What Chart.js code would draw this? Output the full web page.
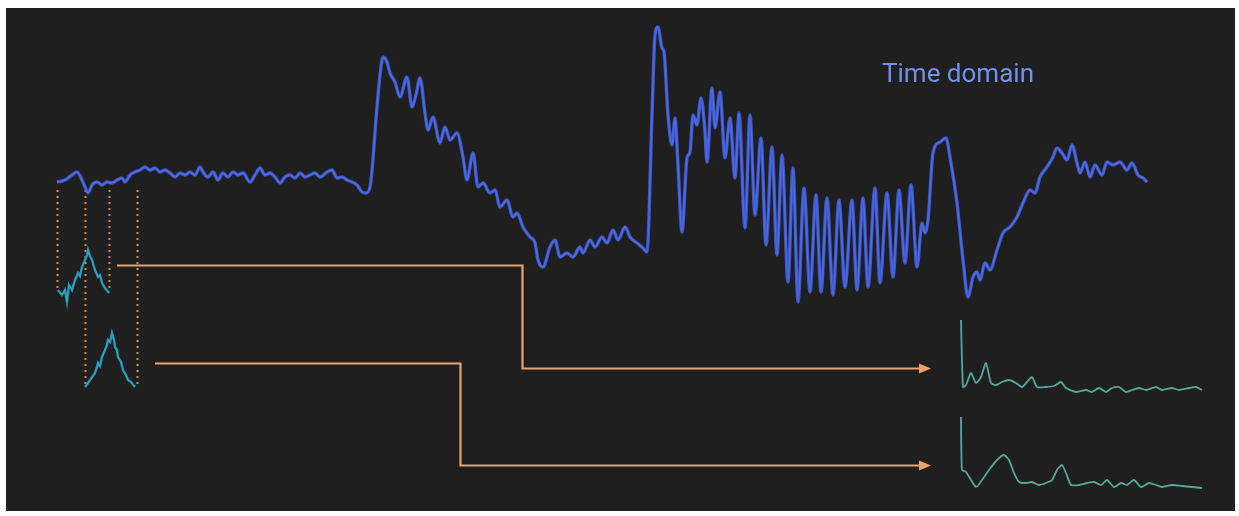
<!DOCTYPE html>
<html>
<head>
<meta charset="utf-8">
<script src="https://cdn.jsdelivr.net/npm/chart.js@4/dist/chart.umd.min.js"></script>
<style>
  html, body { margin: 0; padding: 0; background: #ffffff; }
  #frame { position: absolute; left: 6px; top: 8px; width: 1229px; height: 503px; background: #1f1f1f; }
  canvas { display: block; }
</style>
</head>
<body>
<div id="frame"><canvas id="c" width="1229" height="503"></canvas></div>
<script>
// ---- Time-domain recording (ms, amplitude) ----
const timeMs = [
  0,8,15,20,25,28,31,35,40,45,50,55,60,65,68,73,78,83,88,93,98,103,108,113,118,123,128,133,138,143,
  146,151,156,161,166,171,176,181,186,193,198,203,208,213,218,223,228,233,238,243,248,253,258,263,270,
  275,280,285,290,295,300,305,309,313,320,323,326,
  330,333,338,343,350,355,359,363,368,371,376,383,388,393,400,406,410,416,421,426,433,438,443,450,456,
  460,466,473,478,481,486,493,498,503,510,516,523,526,533,538,545,550,556,561,568,573,580,586,590,
  595,598,601,605,607,611,615,618,621,625,630,633,636,640,644,648,650,655,658,663,668,673,678,682,688,
  693,698,704,709,715,720,725,731,736,741,747,753,759,764,770,776,782,
  788,795,800,806,811,818,823,830,836,842,848,854,860,865,868,871,876,883,889,893,900,906,911,916,920,
  923,928,933,940,946,953,960,966,973,978,983,990,996,1000,1005,1010,1015,1020,1023,1028,1033,1038,1045,
  1050,1056,1063,1070,1075,1081,1086,1090
];
const amplitude = [
  3,5,10,13,5,-2,-8,0,3,0,3,2,5,7,3,10,13,15,18,15,17,13,15,12,8,12,10,13,10,18,
  13,8,13,5,12,8,13,10,12,3,10,17,10,12,8,2,8,10,7,12,8,10,12,8,13,
  15,7,8,5,3,0,-7,-8,-2,78,110,128,
  123,112,103,88,108,78,90,107,72,55,68,42,58,45,52,28,5,32,-2,2,-8,-5,-22,-15,-32,
  -28,-42,-52,-58,-75,-82,-62,-55,-72,-68,-72,-62,-68,-55,-62,-52,-58,-45,-55,-42,-52,-58,-63,-67,
  70,150,158,137,133,70,40,67,20,-47,27,33,70,60,87,53,23,97,57,93,27,67,7,72,-43,
  70,-30,47,-60,38,-70,30,-97,17,-117,-3,-107,-10,-107,-13,-110,-15,
  -102,-15,-105,-13,-102,-3,-98,-8,-92,-5,-78,0,-82,-38,-48,-35,32,43,47,28,-18,-75,-112,-92,-87,
  -95,-78,-85,-65,-48,-42,-32,-18,-5,-8,8,18,28,37,32,25,40,22,12,23,8,20,10,
  23,20,23,15,22,10,7,3
];

// ---- Analysis windows (ms) ----
const windowStartMs = [0, 28];
const windowEndMs   = [52, 80];

// ---- Windowed segments (ms, relative power) ----
const win1Time  = [1,5,8,10,12,15,18,21,23,25,28,30,31,33,35,38,41,43,45,48,52];
const win1Power = [10,5,10,-2,15,10,20,27,24,33,40,45,50,44,40,30,23,25,17,12,7];
const win2Time  = [28,31,33,36,38,40,41,43,45,48,50,51,53,55,57,58,60,61,64,66,69,71,74,78];
const win2Power = [3,7,10,14,17,23,27,24,33,40,45,50,48,57,50,43,40,33,28,20,15,10,8,3];

// ---- Spectra of each window (Hz, magnitude) ----
const spec1Freq = [0,1,2.5,5,7.5,10,12.5,15,17.5,20.5,24,27.5,30.5,33,35.5,38,42.5,46.5,50,52.5,
  57.5,62.5,65.5,69,72.5,75.5,79,82.5,85.5,89,92.5,97.5,100.5,105.5,109,114,117.5,120.5];
const spec1Mag  = [72,5,7,19,9,15,29,9,7,10,12,9,5,10,15,5,5,6,10,4,
  0,2,0,4,0,4,5,0,2,4,2,5,2,4,2,4,5,2];
const spec2Freq = [0,0.5,2.5,7.5,10.5,14,18,21.5,24,26.5,29,32.5,35.5,39,42.5,45.5,48,50.5,52.5,55,
  59,63,66.5,70,73,76.5,80,83,86.5,90,94,97.5,100.5,105.5,110.5,115.5,120.5];
const spec2Mag  = [73,20,18,3,10,20,30,35,30,17,8,7,8,5,7,10,20,25,17,5,
  5,7,8,5,10,3,7,5,10,3,7,5,3,5,4,3,2];

const titleText = 'Time domain';

// ---- Layout ----
const PLOT = { left: 6, top: 8, width: 1229, height: 503 };
// horizontal band: value 0 at page x `zero`, `ppu` pixels per unit
function hBand(zero, ppu) {
  return { min: (PLOT.left - zero) / ppu, max: (PLOT.left + PLOT.width - zero) / ppu };
}
// vertical band: value 0 at page y `zero`, `ppu` pixels per unit (upwards)
function vBand(zero, ppu) {
  return { min: -(PLOT.top + PLOT.height - zero) / ppu, max: (zero - PLOT.top) / ppu };
}
const hidden = { type: 'linear', display: false, grid: { display: false } };
const scales = {
  x:   Object.assign({}, hidden, hBand(57, 1)),
  xF:  Object.assign({}, hidden, hBand(961, 2)),
  y:   Object.assign({}, hidden, vBand(185, 1)),
  yW1: Object.assign({}, hidden, vBand(300, 1)),
  yW2: Object.assign({}, hidden, vBand(390, 1)),
  yS1: Object.assign({}, hidden, vBand(392, 1)),
  yS2: Object.assign({}, hidden, vBand(490, 1))
};

const BLUE_GLOW = 'rgba(66,96,228,0.85)';
const BLUE_CORE = '#9aaef2';
const CYAN_GLOW = 'rgba(40,160,190,0.9)';
const CYAN_CORE = '#8fe2ec';
const TEAL = '#55a99b';
const ORANGE = '#e8a36e';
const DOTS = '#d08e58';

const pts = (xs, ys) => xs.map((v, i) => ({ x: v, y: ys[i] }));
const trace = pts(timeMs, amplitude);

function lineSet(data, xAxisID, yAxisID, color, width, extra) {
  return Object.assign({
    data, xAxisID, yAxisID, borderColor: color, borderWidth: width,
    pointRadius: 0, fill: false, tension: 0
  }, extra || {});
}

const datasets = [
  lineSet(trace, 'x', 'y', BLUE_GLOW, 3.4, { cubicInterpolationMode: 'monotone' }),
  lineSet(trace, 'x', 'y', BLUE_CORE, 1.5, { cubicInterpolationMode: 'monotone' }),
  lineSet(pts(win1Time, win1Power), 'x', 'yW1', CYAN_GLOW, 2.4),
  lineSet(pts(win1Time, win1Power), 'x', 'yW1', CYAN_CORE, 0.9),
  lineSet(pts(win2Time, win2Power), 'x', 'yW2', CYAN_GLOW, 2.4),
  lineSet(pts(win2Time, win2Power), 'x', 'yW2', CYAN_CORE, 0.9),
  lineSet(pts(spec1Freq, spec1Mag), 'xF', 'yS1', TEAL, 1.8, { tension: 0.2 }),
  lineSet(pts(spec2Freq, spec2Mag), 'xF', 'yS2', TEAL, 1.8, { tension: 0.2 })
];

// dotted guides marking each window's edges
const GUIDE_TOP_AMP = -5;
const GUIDE_FLOOR = [{ axis: 'yW1', value: 10 }, { axis: 'yW2', value: 3 }];
const windowGuides = {
  id: 'windowGuides',
  beforeDatasetsDraw(chart) {
    const { ctx, scales: s } = chart;
    ctx.save();
    ctx.strokeStyle = DOTS;
    ctx.lineWidth = 2;
    ctx.setLineDash([2, 4]);
    windowStartMs.forEach((t0, i) => {
      const top = s.y.getPixelForValue(GUIDE_TOP_AMP);
      const bot = s[GUIDE_FLOOR[i].axis].getPixelForValue(GUIDE_FLOOR[i].value);
      [t0, windowEndMs[i]].forEach(t => {
        const px = Math.round(s.x.getPixelForValue(t)) + 0.5;
        ctx.beginPath(); ctx.moveTo(px, top); ctx.lineTo(px, bot); ctx.stroke();
      });
    });
    ctx.restore();
  }
};

// elbow arrows from each window to its spectrum
const connectors = [
  { fromT: 60, fromAxis: 'yW1', fromLevel: 35, turnT: 465, toAxis: 'yS1', toLevel: 24 },
  { fromT: 98, fromAxis: 'yW2', fromLevel: 27, turnT: 403, toAxis: 'yS2', toLevel: 25 }
];
const ARROW_END_HZ = -15;
const elbowArrows = {
  id: 'elbowArrows',
  beforeDatasetsDraw(chart) {
    const { ctx, scales: s } = chart;
    ctx.save();
    connectors.forEach(c => {
      const x0 = s.x.getPixelForValue(c.fromT);
      const y0 = Math.round(s[c.fromAxis].getPixelForValue(c.fromLevel)) + 0.5;
      const xt = Math.round(s.x.getPixelForValue(c.turnT)) + 0.5;
      const y1 = Math.round(s[c.toAxis].getPixelForValue(c.toLevel)) + 0.5;
      const xe = s.xF.getPixelForValue(ARROW_END_HZ);
      const head = 12;
      ctx.strokeStyle = ORANGE;
      ctx.lineWidth = 2.2;
      ctx.lineJoin = 'miter';
      ctx.beginPath();
      ctx.moveTo(x0, y0); ctx.lineTo(xt, y0); ctx.lineTo(xt, y1); ctx.lineTo(xe - head + 1, y1);
      ctx.stroke();
      ctx.fillStyle = ORANGE;
      ctx.beginPath();
      ctx.moveTo(xe - head, y1 - 5); ctx.lineTo(xe, y1); ctx.lineTo(xe - head, y1 + 5);
      ctx.closePath(); ctx.fill();
    });
    ctx.restore();
  }
};

// panel caption
const caption = {
  id: 'caption',
  afterDatasetsDraw(chart) {
    const { ctx, scales: s } = chart;
    ctx.save();
    ctx.font = '26px Roboto, "Open Sans", sans-serif';
    ctx.fillStyle = '#7390ea';
    ctx.textBaseline = 'alphabetic';
    ctx.fillText(titleText, s.x.getPixelForValue(825), s.y.getPixelForValue(103));
    ctx.restore();
  }
};

new Chart(document.getElementById('c'), {
  type: 'line',
  data: { datasets },
  options: {
    responsive: false,
    animation: false,
    devicePixelRatio: 1,
    layout: { padding: 0 },
    events: [],
    plugins: { legend: { display: false }, tooltip: { enabled: false }, title: { display: false } },
    scales
  },
  plugins: [windowGuides, elbowArrows, caption]
});
</script>
</body>
</html>
